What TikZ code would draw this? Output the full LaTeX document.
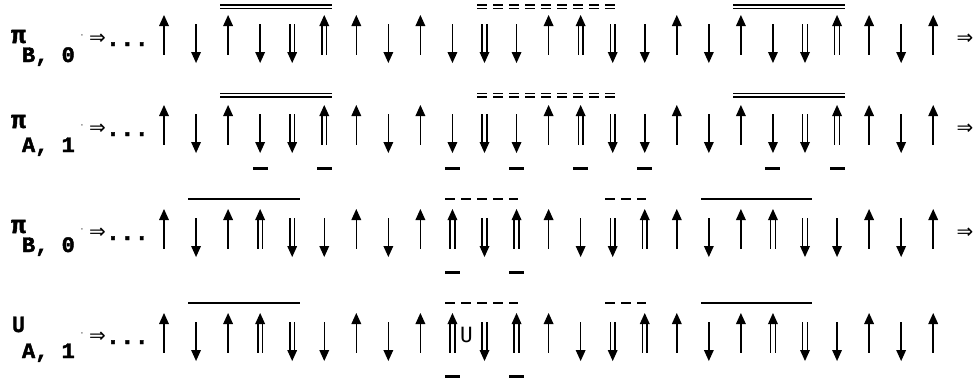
\documentclass[tikz,border=0pt]{standalone}
\usepackage{fontspec}
\newfontfamily\lmb{Liberation Mono Bold}[FakeBold=2]
\newfontfamily\dvs{DejaVu Sans}
\newfontfamily\dvsm{DejaVu Sans Mono}
\newfontfamily\dvsmb{DejaVu Sans Mono Bold}[FakeBold=1]
\begin{document}
\begin{tikzpicture}[x=1pt,y=-1pt,
  shaft/.style={line width=1.5pt},
  ovl/.style={line width=1.3pt},
  dsh/.style={dash pattern=on 10pt off 6pt},
  bar/.style={fill=black},
  txt/.style={inner sep=0pt,outer sep=0pt},
  lab/.style={txt,font=\lmb\fontsize{25}{25}\selectfont,anchor=base},
  sub/.style={txt,font=\lmb\fontsize{22}{22}\selectfont,anchor=base west},
  imp/.style={txt,font=\dvs\fontsize{20}{20}\selectfont},
  dots/.style={txt,font=\lmb\fontsize{24}{24}\selectfont,anchor=base west},
  sdot/.style={txt,font=\dvs\fontsize{9}{9}\selectfont},
  arru/.pic={\draw[shaft] (0,9)--(0,40); \fill (0,0)--(5,11)--(-5,11)--cycle;},
  arrd/.pic={\draw[shaft] (0,9)--(0,39); \fill (0,48)--(5,37)--(-5,37)--cycle;},
  arrU/.pic={\draw[shaft] (-2.4,8)--(-2.4,40) (2.4,8)--(2.4,40); \fill (0,0)--(5,11)--(-5,11)--cycle;},
  arrD/.pic={\draw[shaft] (-2.4,9)--(-2.4,40) (2.4,9)--(2.4,40); \fill (0,48)--(5,37)--(-5,37)--cycle;}
]
\useasboundingbox (0,0) rectangle (980,389);

% arrows rows 1 and 2
\foreach \t [count=\k from 0] in {u,d,u,d,D,U,u,d,u,d,D,d,u,U,D,d,u,d,u,d,D,U,u,d,u}{
  \pgfmathsetmacro\xx{164+32.05*\k}
  \edef\tmp{\noexpand\pic at (\xx,15) {arr\t}; \noexpand\pic at (\xx,105) {arr\t};}\tmp
}
% arrows rows 3 and 4
\foreach \t [count=\k from 0] in {u,d,u,U,D,d,u,d,u,U,D,U,u,d,D,U,u,d,u,U,D,d,u,d,u}{
  \pgfmathsetmacro\xx{164+32.05*\k}
  \edef\tmp{\noexpand\pic at (\xx,209) {arr\t}; \noexpand\pic at (\xx,313) {arr\t};}\tmp
}

% overlines rows 1 and 2 (double)
\foreach \ya/\yb in {5/8.5, 93.5/97}{
  \draw[ovl] (220,\ya)--(332,\ya) (220,\yb)--(332,\yb);
  \draw[ovl] (733,\ya)--(845,\ya) (733,\yb)--(845,\yb);
  \draw[ovl,dsh] (477,\ya)--(615,\ya) (477,\yb)--(615,\yb);
}
% overlines rows 3 and 4 (single)
\foreach \y in {199,303}{
  \draw[ovl] (188,\y)--(300,\y) (701,\y)--(812,\y);
  \draw[ovl,dsh] (445,\y)--(518,\y) (605,\y)--(646,\y);
}

% bars
\foreach \k in {3,5,9,11,13,15,19,21}{
  \pgfmathsetmacro\xx{164+32.05*\k}
  \fill[bar] (\xx-7.5,167) rectangle (\xx+7.5,170);
}
\foreach \k in {9,11}{
  \pgfmathsetmacro\xx{164+32.05*\k}
  \fill[bar] (\xx-7.5,270.5) rectangle (\xx+7.5,273.5);
  \fill[bar] (\xx-7.5,374.5) rectangle (\xx+7.5,377.5);
}

% labels
\node[lab] (p1) at (18.5,43) {π};
\node[sub] (s1) at (22,62) {B, 0};
\node[lab] (p2) at (18.5,128) {π};
\node[sub] (s2) at (22,152) {A, 1};
\node[lab] (p3) at (18.5,233) {π};
\node[sub] (s3) at (22,252) {B, 0};
\node[lab,font=\dvsmb\fontsize{21}{21}\selectfont] (p4) at (18.5,332) {U};
\node[sub] (s4) at (22,358) {A, 1};

\foreach \T/\n in {15/1,105/2,209/3,313/4}{
  \node[sdot] (d\n) at (82,\T+22) {·};
  \node[imp] (i\n) at (97.5,\T+24) {⇒};
  \node[dots] (e\n) at (105.8,\T+31) {...};
}
\foreach \T/\n in {15/1,105/2,209/3}{
  \node[imp] (f\n) at (965,\T+24) {⇒};
}
\node[txt,font=\dvsm\fontsize{21}{21}\selectfont,anchor=base] (u4) at (466.5,342) {U};
\end{tikzpicture}
\end{document}
